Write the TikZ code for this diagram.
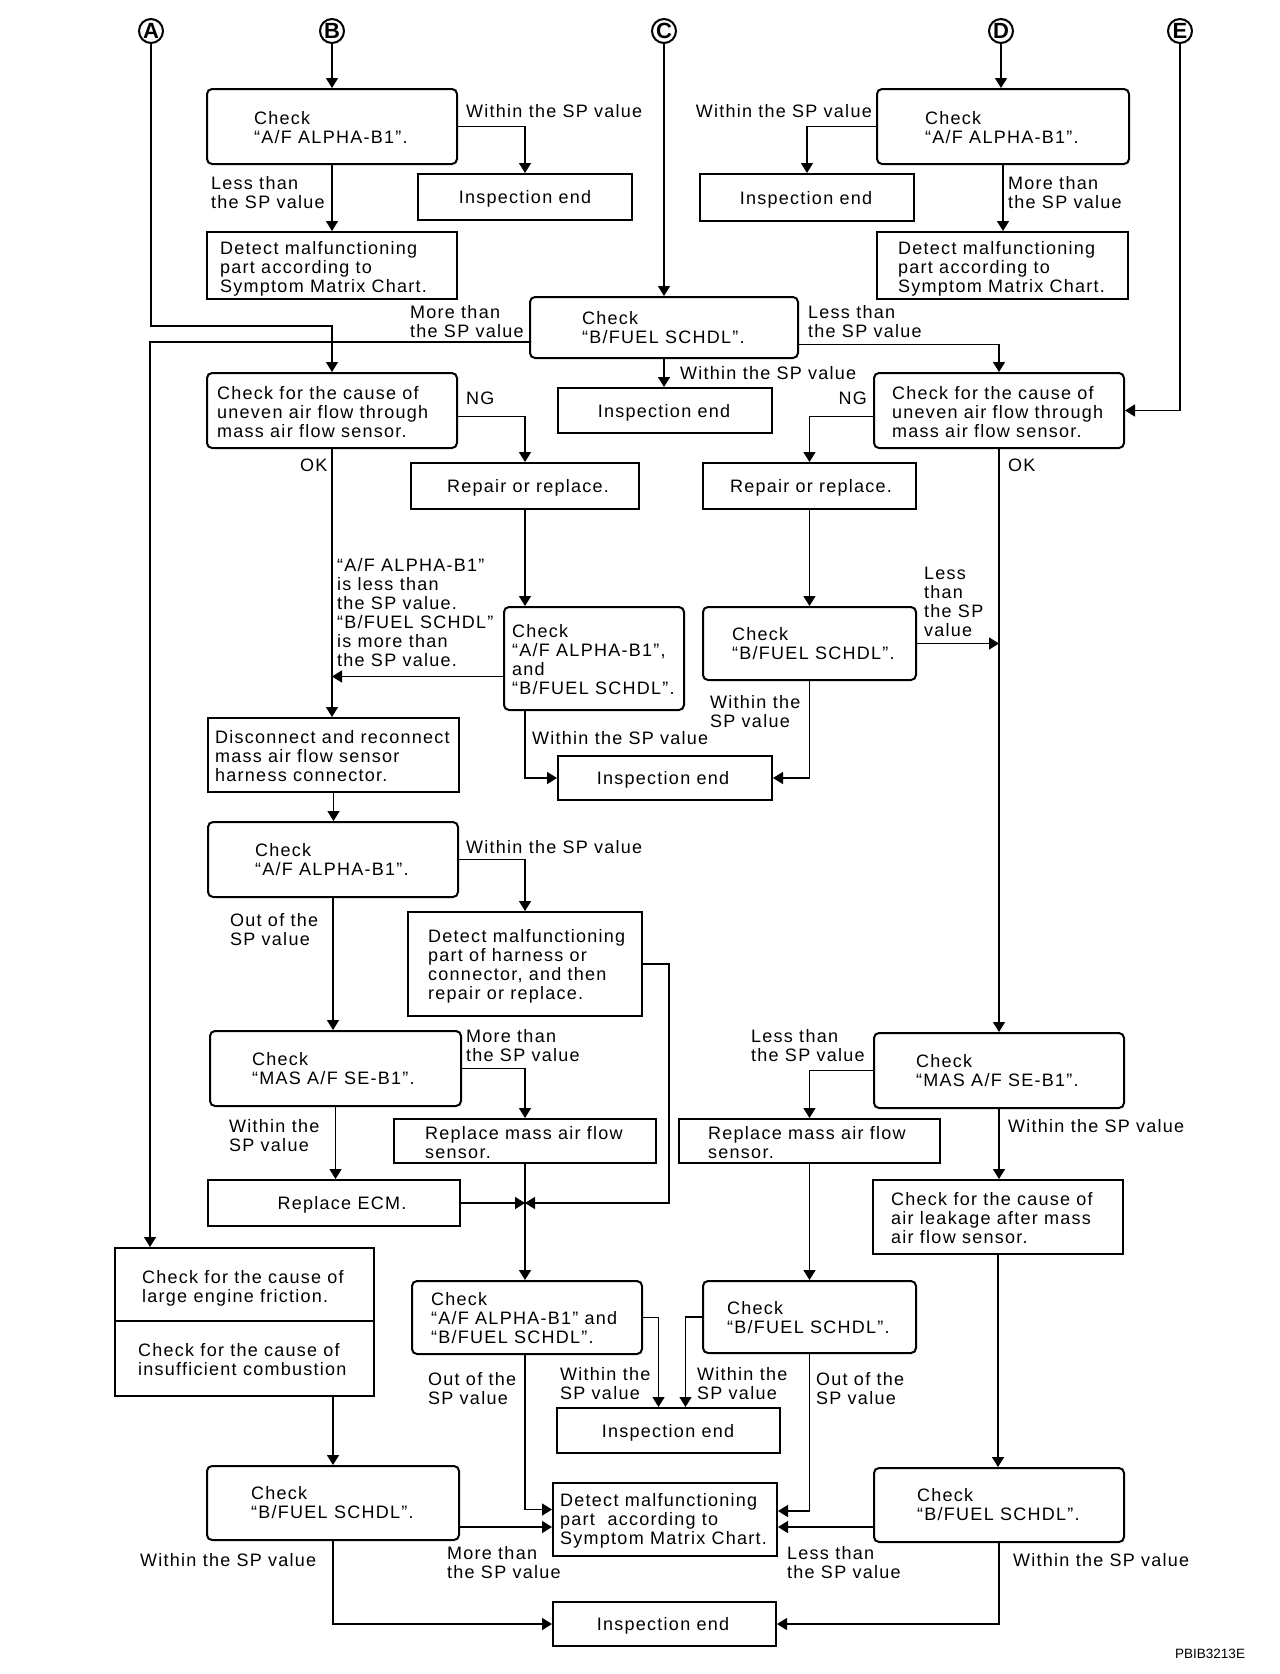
\documentclass[tikz,border=0pt]{standalone}
\usepackage{fontspec}
\setmainfont{Liberation Sans}[LetterSpace=7]
\newfontfamily\codefont{Liberation Sans}
\newfontfamily\circfont{Liberation Sans}
\usetikzlibrary{arrows.meta,fit}
\newcommand\fs{\fontsize{18}{19}\selectfont}
\begin{document}
\begin{tikzpicture}[x=1pt,y=-1pt,
 bxs/.style={draw, line width=2pt, inner sep=0pt, font=\fs},
 rbx/.style={bxs, rounded corners=5pt},
 tx/.style={anchor=base west, align=left, inner sep=0pt, font=\fs},
 txc/.style={anchor=base, inner sep=0pt, font=\fs},
 txr/.style={anchor=base east, align=right, inner sep=0pt, font=\fs},
 arr/.style={line width=1.5pt, -{Triangle[length=10pt,width=12pt]}},
 circ/.style={circle, draw, line width=2pt, minimum size=24pt, inner sep=0pt, font=\circfont\bfseries\fontsize{22}{22}\selectfont}]
\useasboundingbox (0,0) rectangle (1280,1674);
% circled connectors
\node[circ] (cA) at (151,31) {A};
\node[circ] (cB) at (332,31) {B};
\node[circ] (cC) at (664,31) {C};
\node[circ] (cD) at (1001,31) {D};
\node[circ] (cE) at (1180,31) {E};
% boxes
\node[rbx, fit={(207,89) (457,164)}] (b1) {};
\node[tx] (b1t) at (254,143) {Check\\“A/F ALPHA-B1”.};
\node[bxs, fit={(418,174) (632,220)}] (ie1) {};
\node[txc] (ie1t) at (525,203.5) {Inspection end};
\node[bxs, fit={(207,232) (457,299)}] (dm1) {};
\node[tx] (dm1t) at (220,292) {Detect malfunctioning\\part according to\\Symptom Matrix Chart.};
\node[rbx, fit={(530,297) (798,358)}] (bf1) {};
\node[tx] (bf1t) at (582,343) {Check\\“B/FUEL SCHDL”.};
\node[rbx, fit={(877,89) (1129,164)}] (da1) {};
\node[tx] (da1t) at (925,143) {Check\\“A/F ALPHA-B1”.};
\node[bxs, fit={(700,174) (914,221)}] (ie3) {};
\node[txc] (ie3t) at (806,204) {Inspection end};
\node[bxs, fit={(877,232) (1128,299)}] (dm2) {};
\node[tx] (dm2t) at (898,292) {Detect malfunctioning\\part according to\\Symptom Matrix Chart.};
\node[bxs, fit={(558,388) (772,433)}] (ie2) {};
\node[txc] (ie2t) at (664,417) {Inspection end};
\node[rbx, fit={(207,373) (457,448)}] (ul) {};
\node[tx] (ult) at (217,437) {Check for the cause of\\uneven air flow through\\mass air flow sensor.};
\node[rbx, fit={(874,373) (1124,448)}] (ur) {};
\node[tx] (urt) at (892,437) {Check for the cause of\\uneven air flow through\\mass air flow sensor.};
\node[bxs, fit={(411,463) (639,509)}] (rl) {};
\node[txc] (rlt) at (528,492.5) {Repair or replace.};
\node[bxs, fit={(703,463) (916,509)}] (rr) {};
\node[txc] (rrt) at (811,492.5) {Repair or replace.};
\node[rbx, fit={(504,607) (684,710)}] (cb) {};
\node[tx] (cbt) at (512,694) {Check\\“A/F ALPHA-B1”,\\and\\“B/FUEL SCHDL”.};
\node[rbx, fit={(703,607) (916,680)}] (cbf) {};
\node[tx] (cbft) at (732,659) {Check\\“B/FUEL SCHDL”.};
\node[bxs, fit={(558,756) (772,800)}] (ie4) {};
\node[txc] (ie4t) at (663,784.5) {Inspection end};
\node[bxs, fit={(208,718) (459,792)}] (dc) {};
\node[tx] (dct) at (215,781) {Disconnect and reconnect\\mass air flow sensor\\harness connector.};
\node[rbx, fit={(208,822) (458,897)}] (ca2) {};
\node[tx] (ca2t) at (255,875) {Check\\“A/F ALPHA-B1”.};
\node[bxs, fit={(408,912) (642,1016)}] (dmh) {};
\node[tx] (dmht) at (428,999) {Detect malfunctioning\\part of harness or\\connector, and then\\repair or replace.};
\node[rbx, fit={(210,1031) (461,1106)}] (masl) {};
\node[tx] (maslt) at (252,1084) {Check\\“MAS A/F SE-B1”.};
\node[bxs, fit={(394,1119) (656,1163)}] (rml) {};
\node[tx] (rmlt) at (425,1158) {Replace mass air flow\\sensor.};
\node[bxs, fit={(208,1180) (460,1226)}] (ecm) {};
\node[txc] (ecmt) at (342,1209.5) {Replace ECM.};
\node[rbx, fit={(874,1033) (1124,1108)}] (masr) {};
\node[tx] (masrt) at (916,1086) {Check\\“MAS A/F SE-B1”.};
\node[bxs, fit={(679,1119) (940,1163)}] (rmr) {};
\node[tx] (rmrt) at (708,1158) {Replace mass air flow\\sensor.};
\node[bxs, fit={(873,1180) (1123,1254)}] (leak) {};
\node[tx] (leakt) at (891,1243) {Check for the cause of\\air leakage after mass\\air flow sensor.};
\node[bxs, fit={(115,1248) (374,1396)}] (fr) {};
\draw[line width=1.5pt] ([yshift=-74pt]fr.north west) -- ([yshift=-74pt]fr.north east);
\node[tx] (frt1) at (142,1302) {Check for the cause of\\large engine friction.};
\node[tx] (frt2) at (138,1375) {Check for the cause of\\insufficient combustion};
\node[rbx, fit={(412,1281) (642,1354)}] (cab) {};
\node[tx] (cabt) at (431,1343) {Check\\“A/F ALPHA-B1” and\\“B/FUEL SCHDL”.};
\node[rbx, fit={(703,1281) (916,1353)}] (cbf2) {};
\node[tx] (cbf2t) at (727,1333) {Check\\“B/FUEL SCHDL”.};
\node[bxs, fit={(557,1408) (780,1453)}] (ie5) {};
\node[txc] (ie5t) at (668,1437) {Inspection end};
\node[bxs, fit={(553,1483) (777,1556)}] (dmf) {};
\node[tx] (dmft) at (560,1544) {Detect malfunctioning\\part~ according to\\Symptom Matrix Chart.};
\node[rbx, fit={(207,1466) (459,1540)}] (bfl) {};
\node[tx] (bflt) at (251,1518) {Check\\“B/FUEL SCHDL”.};
\node[rbx, fit={(874,1468) (1124,1542)}] (bfr) {};
\node[tx] (bfrt) at (917,1520) {Check\\“B/FUEL SCHDL”.};
\node[bxs, fit={(553,1602) (776,1646)}] (ie6) {};
\node[txc] (ie6t) at (663,1630.5) {Inspection end};
% connectors
\draw[arr] (cB.south) -- (cB.south |- b1.north);
\draw[arr] (b1.east) -| (ie1.north);
\draw[arr] (b1.south) -- (b1.south |- dm1.north);
\draw[arr] (cC.south) -- (cC.south |- bf1.north);
\draw[arr] (cD.south) -- (cD.south |- da1.north);
\draw[arr] (da1.west) -| (ie3.north);
\draw[arr] (da1.south) -- (da1.south |- dm2.north);
\draw[arr] (bf1.south) -- (bf1.south |- ie2.north);
\draw[arr] ([yshift=-17pt]bf1.east) -| (ur.north);
\coordinate (frA) at ([xshift=36pt]fr.north west);
\draw[arr] ([yshift=-14.5pt]bf1.west) -| (frA);
\draw[arr] (cA.south) |- ([yshift=46pt]ul.north) -- (ul.north);
\draw[arr] (cE.south) |- (ur.east);
\draw[arr] ([yshift=-6pt]ul.east) -| (rl.north);
\draw[arr] ([yshift=-6pt]ur.west) -| (rr.north);
\draw[arr] (ul.south) -- (ul.south |- dc.north);
\draw[arr] (rl.south) -- (rl.south |- cb.north);
\coordinate (cbw) at ([yshift=-18pt]cb.west);
\draw[arr] (cbw) -- (cbw -| ul.south);
\draw[arr] (rr.south) -- (rr.south |- cbf.north);
\draw[arr] (rl.south |- cb.south) |- (ie4.west);
\draw[arr] (cbf.south) |- (ie4.east);
\draw[arr] (cbf.east) -- (cbf.east -| ur.south);
\draw[arr] (ur.south) -- (ur.south |- masr.north);
\draw[arr] (dc.south) -- (dc.south |- ca2.north);
\draw[arr] (ca2.east) -| (dmh.north);
\draw[arr] (ca2.south) -- (ca2.south |- masl.north);
\draw[arr] (masl.east) -| (rml.north);
\draw[arr] (masl.south) -- (masl.south |- ecm.north);
\draw[arr] (rml.south) -- (rml.south |- cab.north);
\coordinate (jn) at (ecm.east -| rml.south);
\draw[arr] (ecm.east) -- (jn);
\draw[arr] (dmh.east) -- ++(26,0) |- (jn);
\draw[arr] (masr.west) -| (rmr.north);
\draw[arr] (masr.south) -- (masr.south |- leak.north);
\draw[arr] (rmr.south) -- (rmr.south |- cbf2.north);
\draw[arr] (leak.south) -- (leak.south |- bfr.north);
\draw[arr] (bfl.north |- fr.south) -- (bfl.north);
\coordinate (dml) at ([yshift=-7.5pt]dmf.west);
\coordinate (dmr) at ([yshift=-7.5pt]dmf.east);
\draw[arr] (bfl.east |- dml) -- (dml);
\draw[arr] (bfr.west |- dmr) -- (dmr);
\draw[arr] (bfl.south) |- (ie6.west);
\draw[arr] (bfr.south) |- (ie6.east);
\draw[arr] (cab.east) -| ([xshift=-10pt]ie5.north);
\draw[arr] (cbf2.west) -| ([xshift=17pt]ie5.north);
\draw[arr] (rml.south |- cab.south) |- ([yshift=10pt]dmf.west);
\draw[arr] (cbf2.south) |- ([yshift=8.5pt]dmf.east);
% labels
\node[tx] (l1) at (466,117) {Within the SP value};
\node[tx] (l2) at (211,208) {Less than\\the SP value};
\node[tx] (l3) at (410,337) {More than\\the SP value};
\node[tx] (l4) at (808,337) {Less than\\the SP value};
\node[tx] (l5) at (680,379) {Within the SP value};
\node[txr] (l6) at (872,117) {Within the SP value};
\node[tx] (l7) at (1008,208) {More than\\the SP value};
\node[tx] (l8) at (466,404) {NG};
\node[txr] (l9) at (867,404) {NG};
\node[tx] (l10) at (300,471) {OK};
\node[tx] (l11) at (1008,471) {OK};
\node[tx] (l12) at (337,666) {“A/F ALPHA-B1”\\is less than\\the SP value.\\“B/FUEL SCHDL”\\is more than\\the SP value.};
\node[tx] (l13) at (532,744) {Within the SP value};
\node[tx] (l14) at (710,727) {Within the\\SP value};
\node[tx] (l15) at (924,636) {Less\\than\\the SP\\value};
\node[tx] (l16) at (466,853) {Within the SP value};
\node[tx] (l17) at (230,945) {Out of the\\SP value};
\node[tx] (l18) at (466,1061) {More than\\the SP value};
\node[tx] (l19) at (229,1151) {Within the\\SP value};
\node[tx] (l20) at (751,1061) {Less than\\the SP value};
\node[tx] (l21) at (1008,1132) {Within the SP value};
\node[tx] (l22) at (428,1404) {Out of the\\SP value};
\node[tx] (l23) at (560,1399) {Within the\\SP value};
\node[tx] (l24) at (697,1399) {Within the\\SP value};
\node[tx] (l25) at (816,1404) {Out of the\\SP value};
\node[tx] (l26) at (140,1566) {Within the SP value};
\node[tx] (l27) at (447,1578) {More than\\the SP value};
\node[tx] (l28) at (787,1578) {Less than\\the SP value};
\node[tx] (l29) at (1013,1566) {Within the SP value};
\node[anchor=base west, inner sep=0pt, font=\codefont\fontsize{13.5}{14}\selectfont] (code) at (1175,1658) {PBIB3213E};
\end{tikzpicture}
\end{document}
